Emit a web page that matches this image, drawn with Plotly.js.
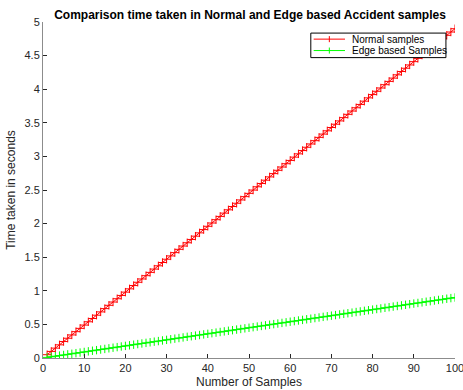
<!DOCTYPE html>
<html>
<head>
<meta charset="utf-8">
<script src="https://cdn.plot.ly/plotly-3.0.1.min.js"></script>
<style>html,body{margin:0;padding:0;background:#fff;}#chart{width:463px;height:390px;}</style>
</head>
<body>
<div id="chart"></div>
<script>
const samples = [1,2,3,4,5,6,7,8,9,10,11,12,13,14,15,16,17,18,19,20,21,22,23,24,25,26,27,28,29,30,31,32,33,34,35,36,37,38,39,40,41,42,43,44,45,46,47,48,49,50,51,52,53,54,55,56,57,58,59,60,61,62,63,64,65,66,67,68,69,70,71,72,73,74,75,76,77,78,79,80,81,82,83,84,85,86,87,88,89,90,91,92,93,94,95,96,97,98,99,100];
const normalTimes = [0.049,0.098,0.147,0.196,0.245,0.294,0.343,0.392,0.441,0.49,0.539,0.588,0.637,0.686,0.735,0.784,0.833,0.882,0.931,0.98,1.029,1.078,1.127,1.176,1.225,1.274,1.323,1.372,1.421,1.47,1.519,1.568,1.617,1.666,1.715,1.764,1.813,1.862,1.911,1.96,2.009,2.058,2.107,2.156,2.205,2.254,2.303,2.352,2.401,2.45,2.499,2.548,2.597,2.646,2.695,2.744,2.793,2.842,2.891,2.94,2.989,3.038,3.087,3.136,3.185,3.234,3.283,3.332,3.381,3.43,3.479,3.528,3.577,3.626,3.675,3.724,3.773,3.822,3.871,3.92,3.969,4.018,4.067,4.116,4.165,4.214,4.263,4.312,4.361,4.41,4.459,4.508,4.557,4.606,4.655,4.704,4.753,4.802,4.851,4.9];
const edgeTimes = [0.009,0.018,0.027,0.036,0.045,0.054,0.063,0.072,0.081,0.09,0.099,0.108,0.117,0.126,0.135,0.144,0.153,0.162,0.171,0.18,0.189,0.198,0.207,0.216,0.225,0.234,0.243,0.252,0.261,0.27,0.279,0.288,0.297,0.306,0.315,0.324,0.333,0.342,0.351,0.36,0.369,0.378,0.387,0.396,0.405,0.414,0.423,0.432,0.441,0.45,0.459,0.468,0.477,0.486,0.495,0.504,0.513,0.522,0.531,0.54,0.549,0.558,0.567,0.576,0.585,0.594,0.603,0.612,0.621,0.63,0.639,0.648,0.657,0.666,0.675,0.684,0.693,0.702,0.711,0.72,0.729,0.738,0.747,0.756,0.765,0.774,0.783,0.792,0.801,0.81,0.819,0.828,0.837,0.846,0.855,0.864,0.873,0.882,0.891,0.9];
const seriesNames = ["Normal samples", "Edge based Samples"];
const seriesColors = ["#ff0000", "#00ff00"];
const xTicks = [0,10,20,30,40,50,60,70,80,90,100];
const yTicks = [0,0.5,1,1.5,2,2.5,3,3.5,4,4.5,5];
const yTickLabels = ["0","0.5","1","1.5","2","2.5","3","3.5","4","4.5","5"];

function trace(y, name, color) {
  return {
    x: samples, y: y, name: name, type: 'scatter', mode: 'lines+markers', showlegend: false,
    line: {color: color, width: 1},
    marker: {symbol: 'cross-thin-open', size: 6, color: color, line: {color: color, width: 1}}
  };
}
const data = [trace(normalTimes, seriesNames[0], seriesColors[0]), trace(edgeTimes, seriesNames[1], seriesColors[1])];

// compact MATLAB-style legend box (paper coordinates; plot area 43..455 x 22..358 px)
const lg = {x0: 0.650, x1: 0.978, y0: 0.894, y1: 0.967, lineX0: 0.657, lineX1: 0.733, markX: 0.695, textX: 0.745, rows: [0.949, 0.915], markH: 0.009};
const shapes = [{type: 'rect', xref: 'paper', yref: 'paper', x0: lg.x0, x1: lg.x1, y0: lg.y0, y1: lg.y1,
  line: {color: '#000', width: 1}, fillcolor: '#fff', layer: 'above'}];
const annotations = [];
seriesNames.forEach((nm, i) => {
  const yy = lg.rows[i];
  shapes.push({type: 'line', xref: 'paper', yref: 'paper', x0: lg.lineX0, x1: lg.lineX1, y0: yy, y1: yy,
    line: {color: seriesColors[i], width: 1}, layer: 'above'});
  shapes.push({type: 'line', xref: 'paper', yref: 'paper', x0: lg.markX, x1: lg.markX, y0: yy - lg.markH, y1: yy + lg.markH,
    line: {color: seriesColors[i], width: 1}, layer: 'above'});
  annotations.push({xref: 'paper', yref: 'paper', x: lg.textX, y: yy, xanchor: 'left', yanchor: 'middle',
    text: nm, showarrow: false, font: {family: 'Arial, Liberation Sans, sans-serif', size: 10, color: '#000'}});
});

const axisCommon = {
  showline: true, linecolor: '#8c8c8c', linewidth: 1, mirror: false,
  ticks: 'inside', ticklen: 4, tickcolor: '#262626', tickwidth: 1,
  showgrid: false, zeroline: false, ticklabeloverflow: 'allow',
  tickfont: {family: 'Arial, Liberation Sans, sans-serif', size: 11, color: '#262626'}
};
const layout = {
  width: 463, height: 390,
  margin: {l: 43, r: 8, t: 22, b: 32},
  paper_bgcolor: '#ffffff', plot_bgcolor: '#ffffff',
  font: {family: 'Arial, Liberation Sans, sans-serif', size: 11, color: '#262626'},
  title: {text: '<b>Comparison time taken in Normal and Edge based Accident samples</b>',
    font: {family: 'Arial, Liberation Sans, sans-serif', size: 12, color: '#000'},
    x: 0.54, xanchor: 'center', y: 0.962, yanchor: 'middle'},
  xaxis: Object.assign({}, axisCommon, {range: [0, 100], tickvals: xTicks, automargin: false,
    title: {text: 'Number of Samples', font: {size: 12, color: '#262626'}, standoff: 4}}),
  yaxis: Object.assign({}, axisCommon, {range: [0, 5], tickvals: yTicks, ticktext: yTickLabels, automargin: false,
    title: {text: 'Time taken in seconds', font: {size: 12, color: '#262626'}, standoff: 6}}),
  showlegend: false,
  shapes: shapes,
  annotations: annotations
};
Plotly.newPlot('chart', data, layout, {displayModeBar: false, staticPlot: true});
</script>
</body>
</html>
